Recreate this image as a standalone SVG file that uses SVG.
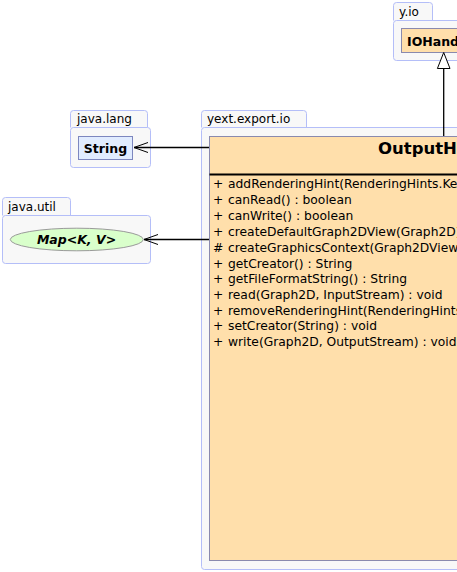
<svg xmlns="http://www.w3.org/2000/svg" width="457" height="572" viewBox="0 0 457 572">
<defs>
<style>
.pkg{fill:#f8f8f8;stroke:#b4bef8;stroke-width:1}
.plbl{font-family:"DejaVu Sans",sans-serif;font-size:12px;fill:#000}
.cls{fill:#ffdfab;stroke:#8a8aae;stroke-width:1}
.cname{font-family:"DejaVu Sans",sans-serif;font-weight:bold;fill:#000}
.m{font-family:"DejaVu Sans",sans-serif;font-size:12.3px;fill:#000}
.edge{stroke:#000;stroke-width:1.3;fill:none}
</style>
<marker id="open" markerWidth="16" markerHeight="12" refX="15" refY="6" orient="auto" markerUnits="userSpaceOnUse">
<path d="M1,1 L15,6 L1,11" fill="none" stroke="#000" stroke-width="1"/>
</marker>
</defs>
<rect width="457" height="572" fill="#fff"/>

<g id="pkg-java-lang">
<path class="pkg" d="M70.5,127.5 V113.5 Q70.5,110.5 73.5,110.5 H144.5 Q147.5,110.5 147.5,113.5 V127.5"/>
<rect class="pkg" x="70.5" y="127.5" width="80" height="40" rx="3"/>
<text class="plbl" x="77" y="123">java.lang</text>
</g>
<g id="String">
<rect x="78.5" y="136.5" width="54" height="23" fill="#e1ecff" stroke="#7d87bf"/>
<text class="cname" x="105.5" y="152.5" font-size="12.5" text-anchor="middle">String</text>
</g>

<g id="pkg-java-util">
<path class="pkg" d="M2.5,215.5 V200.5 Q2.5,197.5 5.5,197.5 H67.5 Q70.5,197.5 70.5,200.5 V215.5"/>
<rect class="pkg" x="2.5" y="215.5" width="148" height="48" rx="3"/>
<text class="plbl" x="8" y="211">java.util</text>
</g>
<g id="Map">
<ellipse cx="76.8" cy="239.5" rx="66.5" ry="11.3" fill="#d9ffcb" stroke="#9a9a9a"/>
<text class="cname" x="76.5" y="244" font-size="12.5" font-style="italic" text-anchor="middle">Map&lt;K, V&gt;</text>
</g>

<g id="pkg-y-io">
<path class="pkg" d="M393.5,20.5 V5.5 Q393.5,2.5 396.5,2.5 H429.5 Q432.5,2.5 432.5,5.5 V20.5"/>
<rect class="pkg" x="393.5" y="20.5" width="80" height="40" rx="3"/>
<text class="plbl" x="399" y="16">y.io</text>
</g>
<g id="IOHandler">
<rect class="cls" x="401.5" y="28.5" width="90" height="24"/>
<text class="cname" x="407" y="45.5" font-size="12.5">IOHandler</text>
</g>

<g id="pkg-yext-export-io">
<path class="pkg" d="M201.5,127.5 V113.5 Q201.5,110.5 204.5,110.5 H303.5 Q306.5,110.5 306.5,113.5 V127.5"/>
<rect class="pkg" x="201.5" y="127.5" width="300" height="442" rx="3"/>
<text class="plbl" x="207" y="123">yext.export.io</text>
</g>
<g id="OutputHandler">
<rect class="cls" x="209.5" y="136.5" width="300" height="424"/>
<text class="cname" x="378" y="153.5" font-size="16.5">OutputHandler</text>
<line x1="209.5" y1="174.5" x2="457" y2="174.5" stroke="#000" stroke-width="2.2"/>
<g class="m">
<text x="213" y="188">+</text><text x="228" y="188">addRenderingHint(RenderingHints.Key, Object) : void</text>
<text x="213" y="204">+</text><text x="228" y="204">canRead() : boolean</text>
<text x="213" y="220">+</text><text x="228" y="220">canWrite() : boolean</text>
<text x="213" y="235.5">+</text><text x="228" y="235.5">createDefaultGraph2DView(Graph2D) : Graph2DView</text>
<text x="213" y="251.5">#</text><text x="228" y="251.5">createGraphicsContext(Graph2DView) : Graphics2D</text>
<text x="213" y="267.5">+</text><text x="228" y="267.5">getCreator() : String</text>
<text x="213" y="283">+</text><text x="228" y="283">getFileFormatString() : String</text>
<text x="213" y="299">+</text><text x="228" y="299">read(Graph2D, InputStream) : void</text>
<text x="213" y="314.5">+</text><text x="228" y="314.5">removeRenderingHint(RenderingHints.Key) : void</text>
<text x="213" y="330">+</text><text x="228" y="330">setCreator(String) : void</text>
<text x="213" y="346">+</text><text x="228" y="346">write(Graph2D, OutputStream) : void</text>
</g>
</g>

<g id="connectors">
<line class="edge" x1="209" y1="147.5" x2="134" y2="147.5" marker-end="url(#open)"/>
<line class="edge" x1="209" y1="239.5" x2="144" y2="239.5" marker-end="url(#open)"/>
<line class="edge" x1="443.7" y1="136" x2="443.7" y2="69"/>
<path d="M443.7,52.5 L450,68.5 L437.4,68.5 Z" fill="#fff" stroke="#000" stroke-width="1"/>
</g>
</svg>
